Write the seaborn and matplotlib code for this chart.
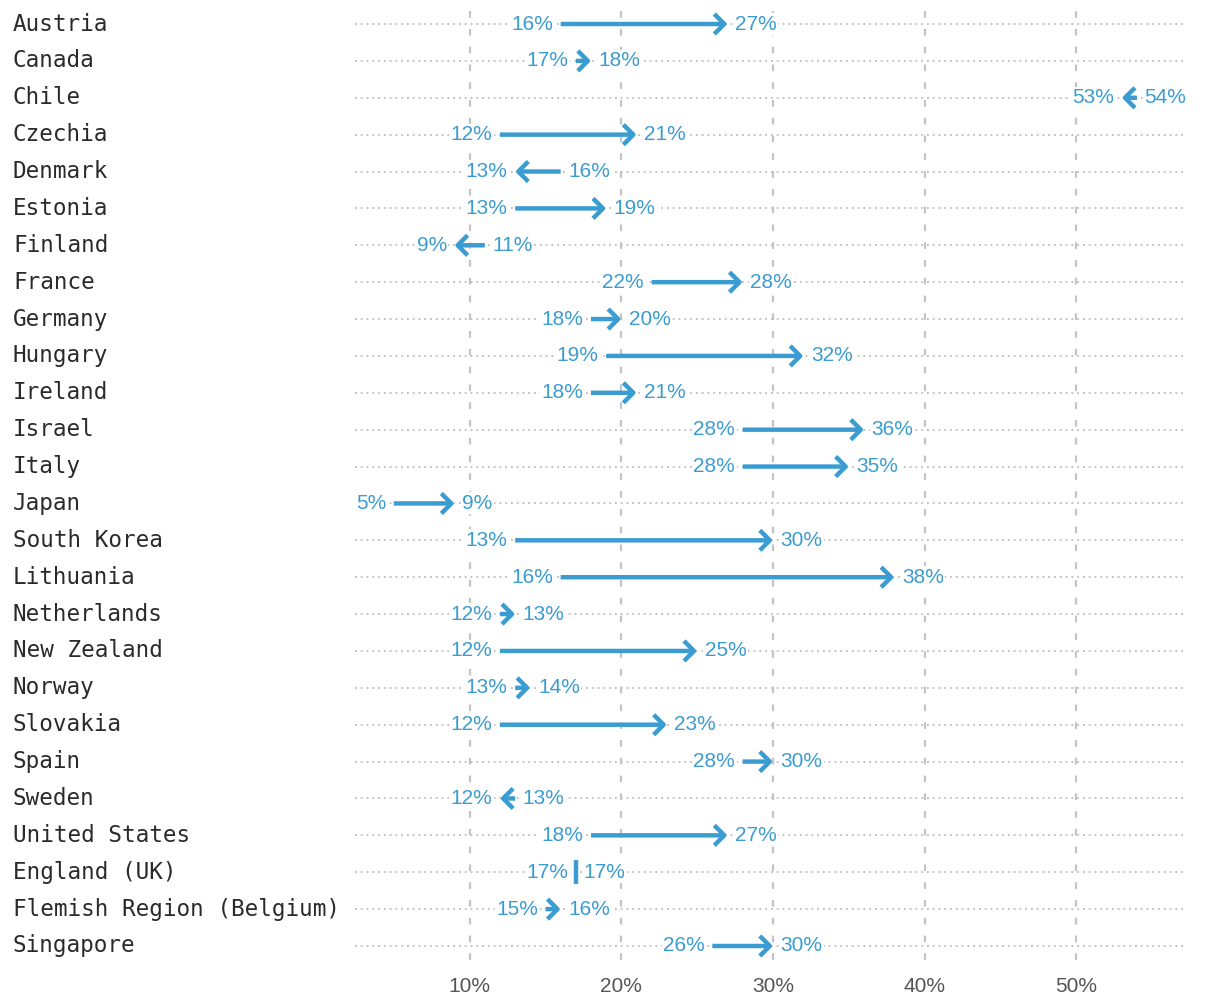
import numpy as np
import pandas as pd
import seaborn as sns
import matplotlib.pyplot as plt
from matplotlib.transforms import blended_transform_factory

# Data
countries = ['Austria', 'Canada', 'Chile', 'Czechia', 'Denmark', 'Estonia', 'Finland',
             'France', 'Germany', 'Hungary', 'Ireland', 'Israel', 'Italy', 'Japan',
             'South Korea', 'Lithuania', 'Netherlands', 'New Zealand', 'Norway',
             'Slovakia', 'Spain', 'Sweden', 'United States', 'England (UK)',
             'Flemish Region (Belgium)', 'Singapore']
start_vals = [16, 17, 54, 12, 16, 13, 11, 22, 18, 19, 18, 28, 28, 5, 13, 16, 12, 12, 13,
              12, 28, 13, 18, 17, 15, 26]
end_vals = [27, 18, 53, 21, 13, 19, 9, 28, 20, 32, 21, 36, 35, 9, 30, 38, 13, 25, 14,
            23, 30, 12, 27, 17, 16, 30]
x_ticks = [10, 20, 30, 40, 50]
x_tick_labels = ['10%', '20%', '30%', '40%', '50%']

BLUE = '#3a9cd1'

sns.set_theme(style='white')
plt.rcParams['font.family'] = ['Liberation Sans', 'DejaVu Sans']

df = pd.DataFrame({'country': countries, 'start': start_vals, 'end': end_vals})
df['row'] = np.arange(len(df))

fig = plt.figure(figsize=(12.2, 10.06), dpi=100)
ax = fig.add_axes([355 / 1220, 1 - 960 / 1006, (1187 - 355) / 1220, 950 / 1006])

ax.set_xlim(2.44, 57.3)
ax.set_ylim(25.38, -0.38)

# horizontal dotted row lines
for r in df['row']:
    ax.axhline(r, color='#bdbdbd', lw=1.3, ls=(0, (1, 2.2)), zorder=1)
# vertical dashed gridlines
for t in x_ticks:
    ax.axvline(t, color='#c4c4c4', lw=1.6, ls=(0, (3, 5)), zorder=1)

label_kw = dict(color=BLUE, fontsize=15, va='center', zorder=4,
                bbox=dict(facecolor='white', edgecolor='none', pad=1.0))
off = 0.5

for _, d in df.iterrows():
    s, e, y = d['start'], d['end'], d['row']
    if s != e:
        ax.annotate('', xy=(e, y), xytext=(s, y),
                    arrowprops=dict(arrowstyle='->,head_length=0.6,head_width=0.6',
                                    color=BLUE, lw=3.2, shrinkA=0, shrinkB=0,
                                    capstyle='butt', joinstyle='round'),
                    zorder=3)
    sign = 1 if e >= s else -1
    ax.text(s - sign * off, y, f'{s}%', ha='right' if sign > 0 else 'left', **label_kw)
    ax.text(e + sign * off, y, f'{e}%', ha='left' if sign > 0 else 'right', **label_kw)

# no change marker
same = df[df['start'] == df['end']]
sns.scatterplot(data=same, x='end', y='row', marker='|', s=280, linewidth=3.2,
                color=BLUE, ax=ax, zorder=3, legend=False)

# country labels on the far left
trans = blended_transform_factory(fig.transFigure, ax.transData)
for _, d in df.iterrows():
    ax.text(13 / 1220, d['row'], d['country'], transform=trans, ha='left', va='center',
            fontsize=16.3, family=['DejaVu Sans Mono'], color='#2a2a2a')

ax.set_xticks(x_ticks)
ax.set_xticklabels(x_tick_labels, fontsize=15, color='#555555')
ax.tick_params(axis='x', length=0, pad=12)
ax.set_yticks([])
ax.set_xlabel('')
ax.set_ylabel('')
for sp in ax.spines.values():
    sp.set_visible(False)

fig.savefig('out.png', dpi=100)
